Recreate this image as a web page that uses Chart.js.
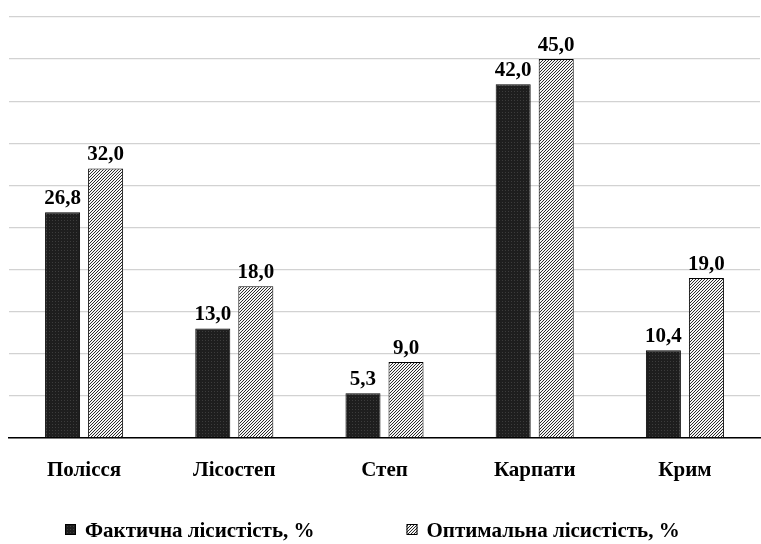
<!DOCTYPE html>
<html>
<head>
<meta charset="utf-8">
<script src="https://cdn.jsdelivr.net/npm/chart.js@4/dist/chart.umd.min.js"></script>
<style>
  html, body { margin: 0; padding: 0; background: #fff; }
  #wrap { width: 761px; height: 544px; position: relative; }
</style>
</head>
<body>
<div id="wrap"><canvas id="c"></canvas></div>
<script>
// Forest cover by natural zone of Ukraine
const regions = ['Полісся', 'Лісостеп', 'Степ', 'Карпати', 'Крим'];
const actualCover = [26.8, 13.0, 5.3, 42.0, 10.4];
const optimalCover = [32.0, 18.0, 9.0, 45.0, 19.0];
const seriesNames = ['Фактична лісистість, %', 'Оптимальна лісистість, %'];

const FONT = '"Liberation Serif", "Times New Roman", serif';

// Fill patterns: dark dotted and light diagonal hatch
function dotPattern(ctx) {
  const t = document.createElement('canvas');
  t.width = 3; t.height = 3;
  const g = t.getContext('2d');
  g.fillStyle = '#1e1e1e';
  g.fillRect(0, 0, 3, 3);
  g.fillStyle = '#3c3c3c';
  g.fillRect(1, 1, 1, 1);
  return ctx.createPattern(t, 'repeat');
}
function hatchPattern(ctx) {
  const t = document.createElement('canvas');
  t.width = 3; t.height = 3;
  const g = t.getContext('2d');
  g.fillStyle = '#f4f4f4';
  g.fillRect(0, 0, 3, 3);
  g.fillStyle = '#2a2a2a';
  for (let i = 0; i < 3; i++) g.fillRect(2 - i, i, 1, 1);
  return ctx.createPattern(t, 'repeat');
}

const canvas = document.getElementById('c');
const c2d = canvas.getContext('2d');
const fills = [dotPattern(c2d), hatchPattern(c2d)];

// Value labels above each bar
const valueLabels = {
  id: 'valueLabels',
  afterDatasetsDraw(chart) {
    const ctx = chart.ctx;
    ctx.save();
    ctx.font = 'bold 21px ' + FONT;
    ctx.fillStyle = '#000';
    ctx.textAlign = 'center';
    ctx.textBaseline = 'alphabetic';
    chart.data.datasets.forEach((ds, di) => {
      chart.getDatasetMeta(di).data.forEach((bar, i) => {
        ctx.fillText(ds.data[i].toFixed(1).replace('.', ','), bar.x, bar.y - 8);
      });
    });
    ctx.restore();
  }
};

// Bottom legend with wide spacing between the two entries
const wideLegend = {
  id: 'wideLegend',
  afterDraw(chart) {
    const ctx = chart.ctx;
    ctx.save();
    ctx.font = 'bold 21px ' + FONT;
    ctx.textBaseline = 'alphabetic';
    ctx.textAlign = 'left';
    const baseY = 537, box = 11, textGap = 9, itemGap = 92;
    let x = 65;
    chart.data.datasets.forEach((ds, i) => {
      ctx.fillStyle = ds.backgroundColor;
      ctx.fillRect(x, baseY - 13, box, box);
      ctx.strokeStyle = '#000';
      ctx.lineWidth = 1;
      ctx.strokeRect(x + 0.5, baseY - 12.5, box - 1, box - 1);
      ctx.fillStyle = '#000';
      ctx.fillText(ds.label, x + box + textGap, baseY);
      x += box + textGap + ctx.measureText(ds.label).width + itemGap;
    });
    ctx.restore();
  }
};

new Chart(canvas, {
  type: 'bar',
  data: {
    labels: regions,
    datasets: [
      { label: seriesNames[0], data: actualCover, backgroundColor: fills[0],
        borderColor: '#000', borderWidth: 1 },
      { label: seriesNames[1], data: optimalCover, backgroundColor: fills[1],
        borderColor: '#000', borderWidth: 1 }
    ]
  },
  options: {
    responsive: true,
    maintainAspectRatio: false,
    animation: false,
    devicePixelRatio: 1,
    layout: { padding: { left: 9, right: 1, top: 17, bottom: 49 } },
    categoryPercentage: 0.573,
    barPercentage: 0.814,
    scales: {
      x: {
        grid: { display: false },
        border: { color: '#000', width: 1.5 },
        ticks: {
          color: '#000',
          padding: 12,
          font: { family: FONT, weight: 'bold', size: 21 }
        }
      },
      y: {
        min: 0, max: 50,
        ticks: { display: false, stepSize: 5 },
        grid: { color: '#d2d2d2', lineWidth: 1.2, drawTicks: false },
        border: { display: false }
      }
    },
    plugins: {
      tooltip: { enabled: false },
      legend: { display: false }
    }
  },
  plugins: [valueLabels, wideLegend]
});
</script>
</body>
</html>
